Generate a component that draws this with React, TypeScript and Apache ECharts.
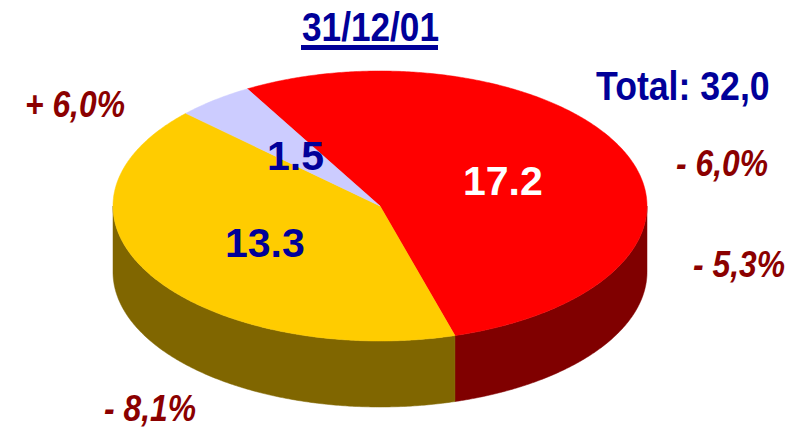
import React, { useEffect, useRef } from "react";
import * as echarts from "echarts";

const sliceNames = ["Red", "Yellow", "Lavender"];
const sliceValues = [17.2, 13.3, 1.5];
const topColors = ["#FF0000", "#FFCC00", "#CCCCFF"];
const sideColors = ["#800000", "#806600", "#666680"];
const valueLabels = ["17.2", "13.3", "1.5"];
const valueLabelColors = ["#FFFFFF", "#000099", "#000099"];
const valueLabelPos = [[463, 181], [225, 243], [267, 156]];
const titleText = "31/12/01";
const totalText = "Total: 32,0";
const changeLabels = ["+ 6,0%", "- 6,0%", "- 5,3%", "- 8,1%"];
const changeLabelPos = [[25, 104], [676, 163], [693, 264], [104, 408]];

const CX = 380, CY = 206, RX = 267, RY = 135, DEPTH = 66;
const START_DEG = 330.2;
const ARIAL = "'Liberation Sans', Arial, sans-serif";

const pt = (deg: number, dy = 0) => {
  const a = (deg * Math.PI) / 180;
  return [CX + RX * Math.sin(a), CY - RY * Math.cos(a) + dy];
};

const total = sliceValues.reduce((s, v) => s + v, 0);

function sliceRange(i: number) {
  let start = START_DEG;
  for (let k = 0; k < i; k++) start += (sliceValues[k] / total) * 360;
  return [start, start + (sliceValues[i] / total) * 360];
}

function renderItem(params: any, api: any) {
  const i = params.dataIndex;
  const [a0, a1] = sliceRange(i);
  const children: any[] = [];
  const topPts: number[][] = [[CX, CY]];
  for (let d = a0; d < a1; d += 0.5) topPts.push(pt(d));
  topPts.push(pt(a1));

  // the outer wall is visible only for the front half of the ellipse
  for (const shift of [0, 360, -360]) {
    const s0 = Math.max(a0 + shift, 90);
    const s1 = Math.min(a1 + shift, 270);
    if (s1 > s0) {
      const wall: number[][] = [];
      for (let d = s0; d < s1; d += 0.5) wall.push(pt(d));
      wall.push(pt(s1));
      const back: number[][] = [];
      for (let d = s1; d > s0; d -= 0.5) back.push(pt(d, DEPTH));
      back.push(pt(s0, DEPTH));
      children.push({
        type: "polygon",
        shape: { points: wall.concat(back) },
        style: { fill: sideColors[i], stroke: sideColors[i], lineWidth: 0.5 },
      });
    }
  }
  children.push({
    type: "polygon",
    shape: { points: topPts },
    style: { fill: topColors[i], stroke: topColors[i], lineWidth: 0.5 },
  });
  return { type: "group", children };
}

function renderLabel(params: any) {
  const i = params.dataIndex;
  return {
    type: "text",
    x: valueLabelPos[i][0],
    y: valueLabelPos[i][1],
    style: {
      text: valueLabels[i],
      fill: valueLabelColors[i],
      font: `bold 41px ${ARIAL}`,
      textAlign: "left",
      textVerticalAlign: "middle",
    },
  };
}

export default function App() {
  const ref = useRef<HTMLDivElement>(null);
  useEffect(() => {
    document.body.style.margin = "0";
    const chart = echarts.init(ref.current!, undefined, { renderer: "svg" });
    chart.setOption({
      animation: false,
      backgroundColor: "#FFFFFF",
      series: [
        {
          type: "custom",
          coordinateSystem: "none",
          renderItem,
          data: sliceNames.map((name, i) => ({ name, value: sliceValues[i] })),
          silent: true,
          z: 1,
        },
        {
          type: "custom",
          coordinateSystem: "none",
          renderItem: renderLabel,
          data: sliceNames.map((name, i) => ({ name, value: sliceValues[i] })),
          silent: true,
          z: 2,
        },
      ],
      graphic: [
        {
          type: "text",
          x: 302,
          y: 27,
          scaleX: 0.88,
          style: {
            text: titleText,
            fill: "#000099",
            font: `bold 40px ${ARIAL}`,
            textAlign: "left",
            textVerticalAlign: "middle",
          },
        },
        { type: "rect", shape: { x: 301, y: 45, width: 137, height: 5 }, style: { fill: "#000099" } },
        {
          type: "text",
          x: 596,
          y: 86,
          scaleX: 0.87,
          style: {
            text: totalText,
            fill: "#000099",
            font: `bold 41px ${ARIAL}`,
            textAlign: "left",
            textVerticalAlign: "middle",
          },
        },
        ...changeLabels.map((text, i) => ({
          type: "text",
          x: changeLabelPos[i][0],
          y: changeLabelPos[i][1],
          scaleX: 0.86,
          style: {
            text,
            fill: "#8B0000",
            font: `italic bold 37px ${ARIAL}`,
            textAlign: "left",
            textVerticalAlign: "middle",
          },
        })),
      ],
    });
    return () => chart.dispose();
  }, []);
  return <div ref={ref} style={{ width: 803, height: 428 }} />;
}
